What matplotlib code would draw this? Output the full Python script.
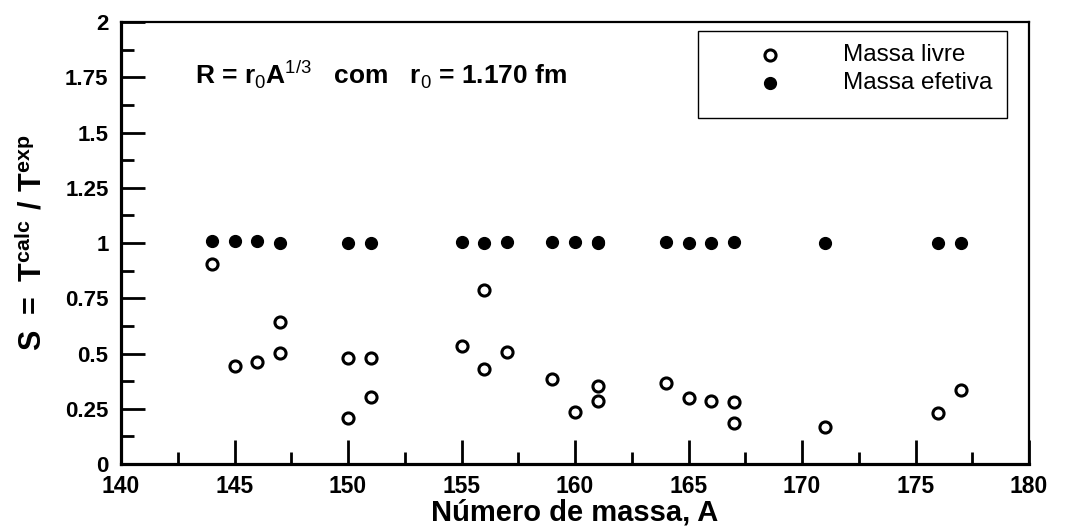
import matplotlib
matplotlib.use('Agg')
import matplotlib.pyplot as plt
from matplotlib.ticker import MultipleLocator
from matplotlib.patches import Rectangle
from matplotlib.lines import Line2D

# mass numbers and S values
A_livre = [144, 145, 146, 147, 147, 150, 150, 151, 151, 155, 156, 156, 157,
           159, 160, 161, 161, 164, 165, 166, 167, 167, 171, 176, 177]
S_livre = [0.905, 0.443, 0.463, 0.641, 0.501, 0.478, 0.210, 0.478, 0.305, 0.535,
           0.787, 0.428, 0.505, 0.385, 0.235, 0.354, 0.287, 0.365, 0.300, 0.287,
           0.281, 0.187, 0.169, 0.229, 0.335]

A_efetiva = [144, 145, 146, 147, 150, 151, 155, 156, 157, 159, 160, 161, 161,
             164, 165, 166, 167, 171, 176, 177]
S_efetiva = [1.008, 1.008, 1.008, 1.0, 1.0, 1.0, 1.004, 1.0, 1.004, 1.004, 1.004,
             1.004, 1.0, 1.004, 1.0, 1.0, 1.004, 1.0, 1.0, 1.0]

y_ticks = [0, 0.25, 0.5, 0.75, 1, 1.25, 1.5, 1.75, 2]
y_labels = ['0', '0.25', '0.5', '0.75', '1', '1.25', '1.5', '1.75', '2']
legend_labels = ['Massa livre', 'Massa efetiva']

plt.rcParams['font.family'] = ['Liberation Sans', 'DejaVu Sans']
plt.rcParams['mathtext.fontset'] = 'custom'
plt.rcParams['mathtext.rm'] = 'Liberation Sans'
plt.rcParams['mathtext.bf'] = 'Liberation Sans:bold'

fig = plt.figure(figsize=(10.7, 5.32), dpi=100)
ax = fig.add_axes([0.1131, 0.1278, 0.8486, 0.8308])

open_style = dict(marker='o', ls='none', ms=8, mfc='white', mec='black', mew=2.2)
fill_style = dict(marker='o', ls='none', ms=8.5, mfc='black', mec='black', mew=1)

ax.plot(A_livre, S_livre, zorder=3, **open_style)
ax.plot(A_efetiva, S_efetiva, zorder=3, **fill_style)

ax.set_xlim(140, 180)
ax.set_ylim(0, 2)
ax.xaxis.set_major_locator(MultipleLocator(5))
ax.xaxis.set_minor_locator(MultipleLocator(2.5))
ax.yaxis.set_minor_locator(MultipleLocator(0.125))
ax.set_yticks(y_ticks)
ax.set_yticklabels(y_labels)

ax.tick_params(which='both', direction='in', top=False, right=False, width=2)
ax.tick_params(which='major', length=17)
ax.tick_params(which='minor', length=9)
ax.tick_params(axis='x', pad=8, labelsize=16.5)
ax.tick_params(axis='y', pad=9, labelsize=16)
for lbl in ax.get_xticklabels() + ax.get_yticklabels():
    lbl.set_fontweight('bold')

for side in ['left', 'bottom']:
    ax.spines[side].set_linewidth(2.3)
for side in ['top', 'right']:
    ax.spines[side].set_linewidth(1.6)

ax.set_xlabel('Número de massa, A', fontsize=21, fontweight='bold', labelpad=0.5)
ax.set_ylabel(r'$\mathbf{S\ =\ T^{calc}\ /\ T^{exp}}$', fontsize=22, labelpad=12)

ax.text(0.082, 0.88, r'R = r$_0$A$^{1/3}$   com   r$_0$ = 1.170 fm',
        transform=ax.transAxes, fontsize=19, fontweight='bold',
        va='center', ha='left')

# legend box drawn by hand to match the original layout
ax.add_patch(Rectangle((0.6355, 0.7828), 0.3403, 0.1968, transform=ax.transAxes,
                       fill=True, facecolor='white', edgecolor='black', lw=1.0,
                       zorder=4))
for yy, style, lab in zip([0.9253, 0.862], [open_style, fill_style], legend_labels):
    ax.add_line(Line2D([0.7148], [yy], transform=ax.transAxes, zorder=5, **style))
    ax.text(0.7952, yy, lab, transform=ax.transAxes, fontsize=17.5,
            va='center', ha='left', zorder=5)

fig.savefig('out.png', dpi=100)
